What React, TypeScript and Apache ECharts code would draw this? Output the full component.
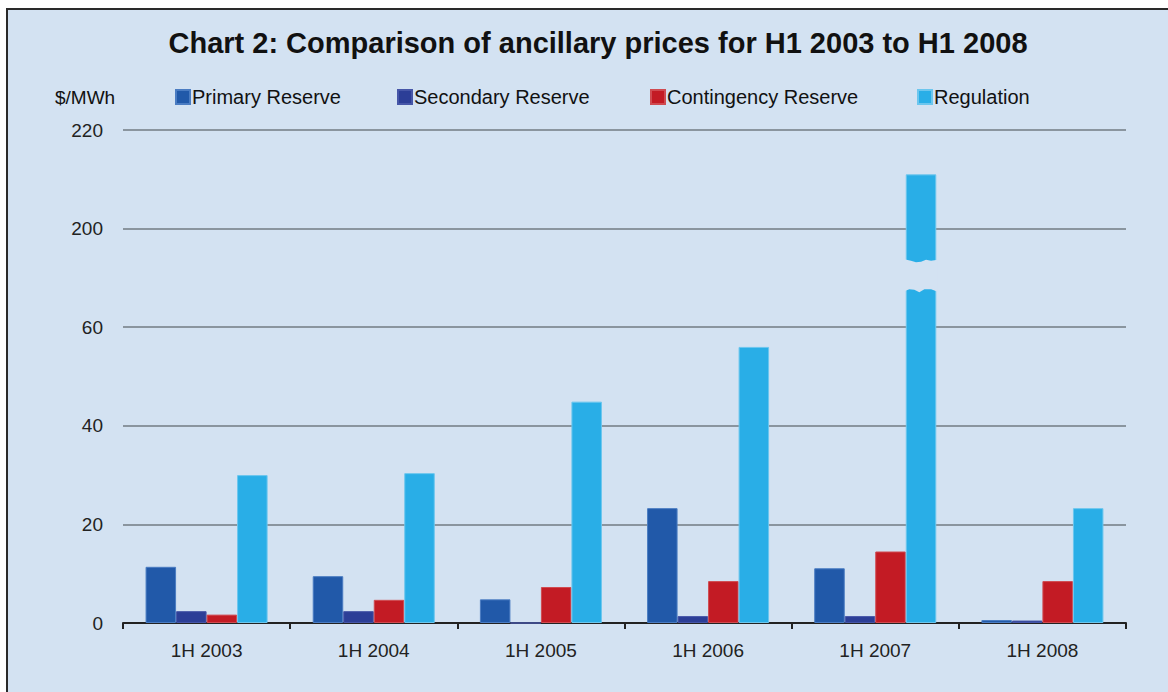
import React, { useEffect, useRef } from "react";
import * as echarts from "echarts";

// ---- data ----
const categories = ["1H 2003", "1H 2004", "1H 2005", "1H 2006", "1H 2007", "1H 2008"];
const primaryReserve = [11.4, 9.5, 4.8, 23.3, 11.1, 0.6];
const secondaryReserve = [2.4, 2.4, 0, 1.4, 1.4, 0.5];
const contingencyReserve = [1.7, 4.7, 7.3, 8.5, 14.5, 8.5];
const regulation = [30.0, 30.4, 44.9, 56.0, 211.0, 23.3];
const yTickLabels = ["0", "20", "40", "60", "200", "220"];
const seriesNames = ["Primary Reserve", "Secondary Reserve", "Contingency Reserve", "Regulation"];

// broken axis: values 60..200 collapsed into one tick step
const BREAK_START = 60;
const BREAK_END = 200;
const toAxis = (v: number) => (v <= BREAK_START ? v : v - (BREAK_END - BREAK_START) + 20);

// style constants
const COLORS = ["#2159A9", "#2C3E97", "#C31B24", "#29AEE7"];
const BORDERS = ["#4A7CC2", "#4656A8", "#D04A50", "#6CC6EE"];
const BG = "#D3E2F2";
const FONT = "'Liberation Sans', Arial, sans-serif";
const GAP_FROM = 67.4; // display units where bar gap starts
const GAP_TO = 73.6;
const LEGEND_LEFT = [175, 397, 650, 917];
const CAT_GAP = 0.27;

export default function App() {
  const ref = useRef<HTMLDivElement>(null);
  useEffect(() => {
    if (!ref.current) return;
    const chart = echarts.init(ref.current, null, { renderer: "svg" });

    const barSeries = [primaryReserve, secondaryReserve, contingencyReserve, regulation].map((arr, i) => ({
      name: seriesNames[i],
      type: "bar",
      data: arr.map(toAxis),
      barCategoryGap: "27%",
      barGap: "0%",
      itemStyle: { color: COLORS[i], borderColor: BORDERS[i], borderWidth: 1 },
      emphasis: { disabled: true },
    }));

    const breakData = regulation
      .map((v, i) => (v > BREAK_START ? [i, toAxis(v)] : null))
      .filter((d) => d !== null);

    const breakSeries = {
      type: "custom",
      z: 5,
      data: breakData,
      encode: { x: 0, y: 1 },
      renderItem: (params: any, api: any) => {
        const idx = api.value(0);
        const center = api.coord([idx, 0]);
        const band = api.size([1, 0])[0];
        const total = band * (1 - CAT_GAP);
        const barW = total / 4;
        const x1 = center[0] + total / 2 + 1.5;
        const x0 = center[0] + total / 2 - barW - 1.5;
        const yLo = api.coord([idx, GAP_FROM])[1];
        const yHi = api.coord([idx, GAP_TO])[1];
        const w = x1 - x0;
        const pts: number[][] = [
          [x0, yHi - 1],
          [x0 + w * 0.2, yHi + 0.5],
          [x0 + w * 0.35, yHi + 2],
          [x0 + w * 0.5, yHi + 1.5],
          [x0 + w * 0.65, yHi - 0.5],
          [x0 + w * 0.8, yHi + 0.5],
          [x1, yHi - 0.5],
          [x1, yLo + 1],
          [x0 + w * 0.8, yLo - 1.5],
          [x0 + w * 0.6, yLo - 1.5],
          [x0 + w * 0.45, yLo + 1.5],
          [x0 + w * 0.3, yLo - 1],
          [x0 + w * 0.15, yLo - 1.5],
          [x0, yLo + 0.5],
        ];
        return { type: "polygon", shape: { points: pts }, style: { fill: BG } };
      },
      silent: true,
    };

    const legends = seriesNames.map((n, i) => ({
      data: [n],
      left: LEGEND_LEFT[i],
      top: 87,
      padding: 0,
      icon: "rect",
      itemWidth: 14,
      itemHeight: 14,
      selectedMode: false,
      textStyle: { fontSize: 20, color: "#111", fontFamily: FONT, padding: [0, 0, 0, -3] },
    }));

    chart.setOption({
      animation: false,
      backgroundColor: "#ffffff",
      textStyle: { fontFamily: FONT },
      graphic: [
        {
          type: "rect",
          z: -10,
          shape: { x: 7, y: 9, width: 1200, height: 720 },
          style: { fill: BG, stroke: "#2a2a2a", lineWidth: 2 },
          silent: true,
        },
        {
          type: "text",
          x: 598,
          y: 43,
          style: {
            text: "Chart 2: Comparison of ancillary prices for H1 2003 to H1 2008",
            font: `bold 29px ${FONT}`,
            fill: "#111",
            align: "center",
            verticalAlign: "middle",
          },
        },
        {
          type: "text",
          x: 55,
          y: 97,
          style: {
            text: "$/MWh",
            font: `19px ${FONT}`,
            fill: "#111",
            align: "left",
            verticalAlign: "middle",
          },
        },
      ],
      legend: legends,
      grid: { left: 123, right: 42, top: 130, bottom: 69, containLabel: false },
      xAxis: {
        type: "category",
        data: categories,
        axisLine: { lineStyle: { color: "#222", width: 2 } },
        axisTick: { show: true, length: 6, lineStyle: { color: "#222", width: 2 } },
        axisLabel: { fontSize: 19, color: "#222", margin: 18, fontFamily: FONT },
      },
      yAxis: {
        type: "value",
        min: 0,
        max: 100,
        interval: 20,
        axisLine: { show: false },
        axisTick: { show: false },
        splitLine: { lineStyle: { color: "#8A959F", width: 2 } },
        axisLabel: {
          fontSize: 19,
          color: "#222",
          margin: 20,
          fontFamily: FONT,
          formatter: (v: number) => yTickLabels[Math.round(v / 20)] ?? "",
        },
      },
      series: [...barSeries, breakSeries],
    });
    return () => chart.dispose();
  }, []);
  return (
    <div
      ref={ref}
      style={{ position: "absolute", left: 0, top: 0, width: 1168, height: 692 }}
    />
  );
}
